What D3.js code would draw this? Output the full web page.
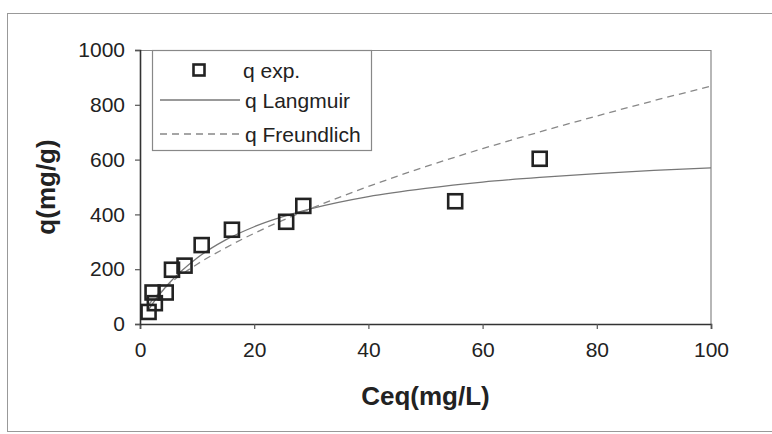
<!DOCTYPE html>
<html>
<head>
<meta charset="utf-8">
<script src="https://cdn.jsdelivr.net/npm/d3@7"></script>
<style>
  body { margin: 0; background: #fff; overflow: hidden; }
  text { font-family: Arial, "Liberation Sans", sans-serif; fill: #222; }
</style>
</head>
<body>
<div class="vis-chart"></div>
<script>
// experimental points
const expC = [1.5, 2.6, 2.2, 4.5, 5.6, 7.8, 10.8, 16.1, 25.6, 28.6, 55.2, 70.0];
const expQ = [44, 76, 115, 115, 198, 213, 288, 344, 373, 431, 448, 603];

// fitted curves
const fitC = [1.5, 2, 5, 10, 15, 20, 30, 40, 50, 60, 70, 80, 90, 100];
const langmuirQ = [52, 68, 147, 241, 307, 355, 421, 465, 495, 518, 535, 549, 561, 570];
const freundlichQ = [70, 83, 144, 218, 278, 331, 422, 502, 574, 640, 701, 759, 815, 868];

const xTicks = [0, 20, 40, 60, 80, 100];
const yTicks = [0, 200, 400, 600, 800, 1000];
const legendLabels = ["q exp.", "q Langmuir", "q Freundlich"];

const width = 772, height = 434;
const margin = { top: 50, right: 61, bottom: 110, left: 140 };
const w = width - margin.left - margin.right;
const h = height - margin.top - margin.bottom;

const svg = d3.select(".vis-chart")
    .append("svg")
    .attr("width", width)
    .attr("height", height);

// outer chart border
svg.append("rect")
    .attr("x", 7.5).attr("y", 13.5)
    .attr("width", 800).attr("height", 418)
    .attr("fill", "none")
    .attr("stroke", "#999")
    .attr("stroke-width", 1);

const g = svg.append("g")
    .attr("transform", "translate(" + margin.left + "," + margin.top + ")");

const x = d3.scaleLinear().domain([0, 100]).range([0, w]);
const y = d3.scaleLinear().domain([0, 1000]).range([h, 0]);

// plot frame (top / right)
g.append("path")
    .attr("d", "M0,0.5H" + w + "V" + h)
    .attr("fill", "none")
    .attr("stroke", "#888")
    .attr("stroke-width", 1.2);

// axes
const xAxis = g.append("g")
    .attr("transform", "translate(0," + h + ")")
    .call(d3.axisBottom(x).tickValues(xTicks).tickSize(5).tickPadding(13).tickFormat(d3.format("d")));
const yAxis = g.append("g")
    .call(d3.axisLeft(y).tickValues(yTicks).tickSize(5).tickPadding(10).tickFormat(d3.format("d")));

[xAxis, yAxis].forEach(a => {
    a.select(".domain").attr("stroke", "#333").attr("stroke-width", 1.6);
    a.selectAll(".tick line").attr("stroke", "#555").attr("stroke-width", 1.2);
    a.selectAll(".tick text")
        .attr("font-size", 21)
        .attr("font-family", "Arial, 'Liberation Sans', sans-serif")
        .attr("fill", "#333");
});

// axis titles
svg.append("text")
    .attr("x", margin.left + w / 2)
    .attr("y", 405)
    .attr("text-anchor", "middle")
    .attr("font-size", 26)
    .attr("font-weight", "bold")
    .text("Ceq(mg/L)");

svg.append("text")
    .attr("transform", "translate(55," + (margin.top + h / 2) + ") rotate(-90)")
    .attr("text-anchor", "middle")
    .attr("font-size", 26)
    .attr("font-weight", "bold")
    .text("q(mg/g)");

// fitted lines
const line = d3.line()
    .x(d => x(d[0]))
    .y(d => y(d[1]))
    .curve(d3.curveMonotoneX);

g.append("path")
    .datum(d3.zip(fitC, langmuirQ))
    .attr("fill", "none")
    .attr("stroke", "#777")
    .attr("stroke-width", 1.3)
    .attr("d", line);

g.append("path")
    .datum(d3.zip(fitC, freundlichQ))
    .attr("fill", "none")
    .attr("stroke", "#888")
    .attr("stroke-width", 1.3)
    .attr("stroke-dasharray", "7,5")
    .attr("d", line);

// experimental markers
const s = 14;
g.selectAll(".pt")
    .data(d3.zip(expC, expQ))
    .enter().append("rect")
    .attr("class", "pt")
    .attr("x", d => x(d[0]) - s / 2)
    .attr("y", d => y(d[1]) - s / 2)
    .attr("width", s).attr("height", s)
    .attr("fill", "none")
    .attr("stroke", "#222")
    .attr("stroke-width", 2.6);

// legend
const lg = svg.append("g").attr("transform", "translate(152,50)");
lg.append("rect")
    .attr("x", 0.5).attr("y", 0.5)
    .attr("width", 219).attr("height", 100)
    .attr("fill", "#fff")
    .attr("stroke", "#888")
    .attr("stroke-width", 1.2);

const rowY = [20, 50, 84];
lg.append("rect")
    .attr("x", 47 - 5.5).attr("y", rowY[0] - 5.5)
    .attr("width", 11).attr("height", 11)
    .attr("fill", "none")
    .attr("stroke", "#222")
    .attr("stroke-width", 2.6);
lg.append("line")
    .attr("x1", 8).attr("x2", 88)
    .attr("y1", rowY[1]).attr("y2", rowY[1])
    .attr("stroke", "#777").attr("stroke-width", 1.3);
lg.append("line")
    .attr("x1", 8).attr("x2", 88)
    .attr("y1", rowY[2]).attr("y2", rowY[2])
    .attr("stroke", "#888").attr("stroke-width", 1.3)
    .attr("stroke-dasharray", "7,5");

lg.selectAll(".lt")
    .data(legendLabels)
    .enter().append("text")
    .attr("class", "lt")
    .attr("x", (d, i) => i === 0 ? 91 : 93)
    .attr("y", (d, i) => rowY[i])
    .attr("dy", "0.36em")
    .attr("font-size", 21)
    .text(d => d);
</script>
</body>
</html>
